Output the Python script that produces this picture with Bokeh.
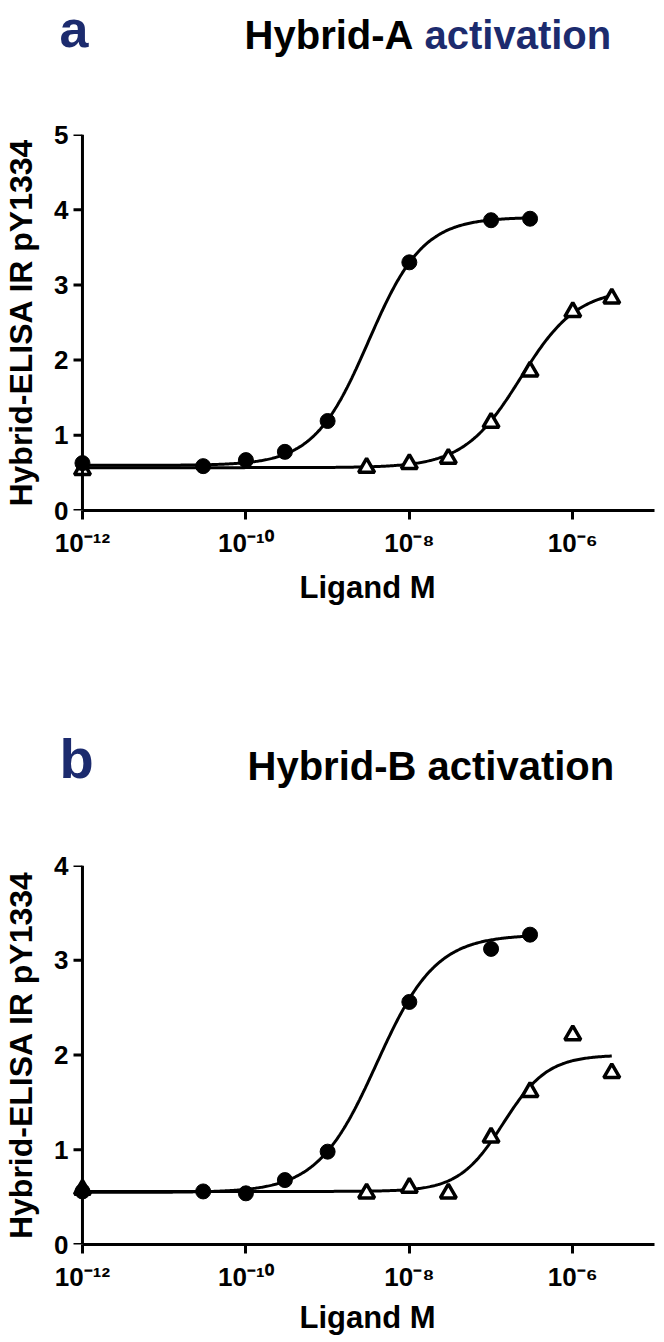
import numpy as np
from bokeh.plotting import figure
from bokeh.models import Range1d, FixedTicker, CustomJSTickFormatter, Span
from bokeh.core.properties import value
from bokeh.layouts import column
from bokeh.embed import file_html
from bokeh.resources import INLINE

# ---------------- data ----------------
conc_circle = [1e-12, 3e-11, 1e-10, 3e-10, 1e-9, 1e-8, 1e-7, 3e-7]
conc_triangle = [1e-12, 3e-9, 1e-8, 3e-8, 1e-7, 3e-7, 1e-6, 3e-6]

a_circle = [0.63, 0.59, 0.67, 0.78, 1.19, 3.30, 3.86, 3.88]
a_triangle = [0.54, 0.57, 0.62, 0.69, 1.17, 1.85, 2.64, 2.82]
b_circle = [0.56, 0.56, 0.54, 0.68, 0.98, 2.56, 3.12, 3.27]
b_triangle = [0.58, 0.54, 0.60, 0.54, 1.13, 1.61, 2.21, 1.81]

# fitted sigmoid parameters: bottom, top, logEC50, hill
a_circle_fit = (0.60, 3.90, -8.50, 1.30)
a_triangle_fit = (0.57, 2.95, -6.64, 1.25)
b_circle_fit = (0.55, 3.27, -8.40, 1.20)
b_triangle_fit = (0.56, 2.00, -6.85, 1.60)

x_ticks = [1e-12, 1e-10, 1e-8, 1e-6]
a_y_ticks = [0, 1, 2, 3, 4, 5]
b_y_ticks = [0, 1, 2, 3, 4]

x_label = "Ligand M"
y_label = "Hybrid-ELISA IR pY1334"
title_a = ["Hybrid-A", "activation"]
title_b = "Hybrid-B activation"

NAVY = "#1c2b6e"
FONT = "Liberation Sans"
W = 660

X_MIN, X_MAX = 1e-12, 1e-5
B_LEFT = 70
FRAME_W = 584            # frame from x 70 to 654
PAD_PX = 10              # room left of the y axis so edge markers are not clipped
DEC_PX = (FRAME_W - PAD_PX) / 7.0
PAD_DEC = PAD_PX / DEC_PX
TICK_LEN = 9

sup_code = """
const sup = {'-': '\u207b', '0': '\u2070', '1': '\u00b9', '2': '\u00b2', '3': '\u00b3',
             '4': '\u2074', '5': '\u2075', '6': '\u2076', '7': '\u2077', '8': '\u2078', '9': '\u2079'};
const e = Math.round(Math.log10(tick));
return '10' + String(e).split('').map(c => sup[c]).join('');
"""


def curve(fit, xmax):
    bottom, top, c, h = fit
    lx = np.linspace(np.log10(X_MIN), np.log10(xmax), 400)
    y = bottom + (top - bottom) / (1 + 10 ** (h * (c - lx)))
    return 10 ** lx, y


def make_panel(height, y_max, y_ticks, b_bottom, circ, tri, cfit, tfit):
    p = figure(width=W, height=height, x_axis_type="log",
               x_range=Range1d(10 ** (np.log10(X_MIN) - PAD_DEC), X_MAX),
               y_range=Range1d(0, y_max),
               output_backend="svg", toolbar_location=None, frame_align=False,
               min_border_left=B_LEFT, min_border_right=W - B_LEFT - FRAME_W,
               min_border_top=20, min_border_bottom=b_bottom)
    p.outline_line_color = None
    p.xgrid.visible = False
    p.ygrid.visible = False

    xa = p.xaxis[0]
    ya = p.yaxis[0]
    xa.bounds = (X_MIN, X_MAX)
    xa.ticker = FixedTicker(ticks=x_ticks)
    ya.ticker = FixedTicker(ticks=y_ticks)
    xa.formatter = CustomJSTickFormatter(code=sup_code)
    for ax in (xa, ya):
        ax.axis_line_width = 3
        ax.axis_line_color = "black"
        ax.major_tick_line_width = 3
        ax.major_tick_line_color = "black"
        ax.major_tick_out = TICK_LEN
        ax.major_tick_in = 0
        ax.minor_tick_line_color = None
        ax.major_label_text_font = FONT
        ax.major_label_text_font_style = "bold"
        ax.major_label_text_font_size = "26px"
        ax.major_label_text_color = "black"
        ax.axis_label_text_font = FONT
        ax.axis_label_text_font_style = "bold"
        ax.axis_label_text_font_size = "32px"
        ax.axis_label_text_color = "black"
    xa.major_label_standoff = 8
    ya.axis_label = y_label
    # y axis: drawn at x = 1e-12 inside the frame; the Bokeh axis keeps the labels
    ya.axis_line_color = None
    ya.major_tick_line_color = None
    ya.major_tick_out = 0
    ya.major_label_standoff = 4
    ya.axis_label_standoff = 12

    p.add_layout(Span(location=X_MIN, dimension="height", line_color="black", line_width=3))
    x_tick_left = 10 ** (np.log10(X_MIN) - TICK_LEN / DEC_PX)
    p.segment(x0=[x_tick_left] * len(y_ticks), x1=[X_MIN] * len(y_ticks),
              y0=y_ticks, y1=y_ticks, line_color="black", line_width=3)

    cx, cy = curve(tfit, max(conc_triangle))
    p.line(cx, cy, line_color="black", line_width=3)
    cx, cy = curve(cfit, max(conc_circle))
    p.line(cx, cy, line_color="black", line_width=3)
    p.scatter(conc_triangle, tri, marker="triangle", size=16, fill_color="white",
              line_color="black", line_width=3.5)
    p.scatter(conc_circle, circ, marker="circle", size=15, fill_color="black",
              line_color="black")
    return p


def make_strip(height, items):
    t = figure(width=W, height=height, x_range=Range1d(0, W), y_range=Range1d(height, 0),
               output_backend="svg", toolbar_location=None, frame_align=False,
               x_axis_location=None, y_axis_location=None,
               min_border=0, min_border_left=0, min_border_right=0,
               min_border_top=0, min_border_bottom=0)
    t.outline_line_color = None
    t.xgrid.visible = False
    t.ygrid.visible = False
    for (x, y, txt, size, color, align) in items:
        t.text(x=[x], y=[y], text=[txt], text_font=value(FONT), text_font_style="bold",
               text_font_size=size, text_color=color, text_align=align,
               text_baseline="middle")
    return t


AXIS_MID = B_LEFT + PAD_PX + (FRAME_W - PAD_PX) / 2

# strips: title a (114) | panel a (448) | x label a (78) | title b (205) | panel b (451) | x label b (42)
ta = make_strip(114, [
    (59, 28, "a", "52px", NAVY, "left"),
    (413, 34, title_a[0], "40px", "black", "right"),
    (424, 34, title_a[1], "40px", NAVY, "left"),
])
pa = make_panel(448, 5, a_y_ticks, 52, a_circle, a_triangle, a_circle_fit, a_triangle_fit)
la = make_strip(78, [(AXIS_MID, 25, x_label, "31px", "black", "center")])
tb = make_strip(205, [
    (59, 118, "b", "56px", NAVY, "left"),
    (247, 125, title_b, "40px", "black", "left"),
])
pb = make_panel(451, 4, b_y_ticks, 52, b_circle, b_triangle, b_circle_fit, b_triangle_fit)
lb = make_strip(42, [(AXIS_MID, 21, x_label, "31px", "black", "center")])

layout = column(ta, pa, la, tb, pb, lb, spacing=0)
open("out.html", "w").write(file_html(layout, INLINE))
